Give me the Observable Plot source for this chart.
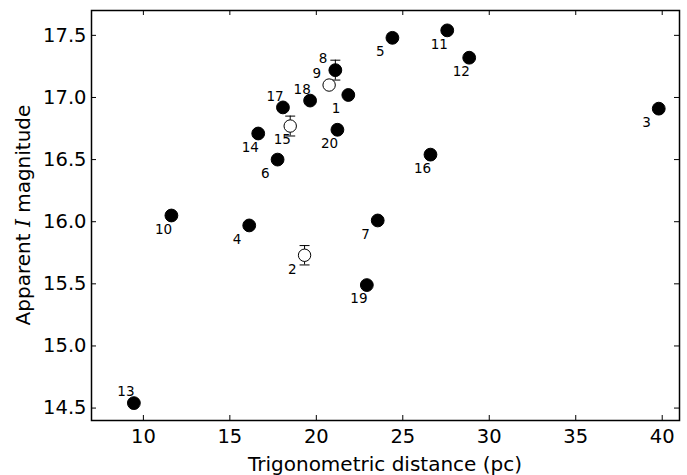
<!DOCTYPE html>
<html><head><meta charset="utf-8">
<script src="https://cdn.jsdelivr.net/npm/d3@7"></script>
<script src="https://cdn.jsdelivr.net/npm/@observablehq/plot@0.6"></script>
<style>body{margin:0;background:#fff} #chart{width:687px;height:475px}</style>
</head><body><div id="chart"></div>
<script>
// Data
const ids  = [1, 2, 3, 4, 5, 6, 7, 8, 9, 10, 11, 12, 13, 14, 15, 16, 17, 18, 19, 20];
const dist = [21.85, 19.32, 39.8, 16.12, 24.4, 17.76, 23.55, 21.1, 20.74, 11.62, 27.57, 28.84, 9.45, 16.64, 18.49, 26.6, 18.07, 19.64, 22.92, 21.22];
const mag  = [17.02, 15.73, 16.91, 15.97, 17.48, 16.50, 16.01, 17.22, 17.10, 16.05, 17.54, 17.32, 14.54, 16.71, 16.77, 16.54, 16.92, 16.975, 15.49, 16.74];
const openIds  = [2, 9, 15];
const errIds   = [2, 8, 15];
const errVals  = [0.078, 0.08, 0.08];
const aboveIds = [8, 9, 13, 17, 18];
const xTicks = [10, 15, 20, 25, 30, 35, 40];
const yTicks = [14.5, 15.0, 15.5, 16.0, 16.5, 17.0, 17.5];
const xDomain = [7, 41];
const yDomain = [14.4, 17.7];
const xTitle = "Trigonometric distance (pc)";
const yTitleParts = ["Apparent ", "I", " magnitude"];

const W = 687, H = 475, mL = 91, mR = 8, mT = 10, mB = 55;
const ph = H - mT - mB, pw = W - mL - mR, tl = 5;

const rows = ids.map((id, i) => ({
  id, x: dist[i], y: mag[i],
  open: openIds.includes(id),
  above: aboveIds.includes(id),
  err: errIds.includes(id) ? errVals[errIds.indexOf(id)] : 0
}));
const errRows = rows.filter(d => d.err > 0);
const caps = errRows.flatMap(d => [{x: d.x, y: d.y - d.err}, {x: d.x, y: d.y + d.err}]);
const capSymbol = {draw(ctx) { ctx.moveTo(-5, 0); ctx.lineTo(5, 0); }};

const chart = Plot.plot({
  width: W, height: H,
  marginLeft: mL, marginRight: mR, marginTop: mT, marginBottom: mB,
  style: {fontFamily: "DejaVu Sans", fontSize: "19.5px", color: "black", background: "white"},
  x: {domain: xDomain, label: null},
  y: {domain: yDomain, label: null},
  marks: [
    Plot.ruleX(errRows, {x: "x", y1: d => d.y - d.err, y2: d => d.y + d.err, stroke: "black", strokeWidth: 1}),
    Plot.dot(caps, {x: "x", y: "y", symbol: capSymbol, stroke: "black", strokeWidth: 1, r: 5}),
    Plot.dot(rows.filter(d => !d.open), {x: "x", y: "y", r: 6.4, fill: "black", stroke: "black", strokeWidth: 1}),
    Plot.dot(rows.filter(d => d.open), {x: "x", y: "y", r: 6.2, fill: "white", stroke: "black", strokeWidth: 1}),
    Plot.text(rows.filter(d => !d.above), {x: "x", y: "y", text: d => String(d.id), dx: -16.5, dy: 14, textAnchor: "start", fontSize: 13.5, fill: "black"}),
    Plot.text(rows.filter(d => d.above), {x: "x", y: "y", text: d => String(d.id), dx: -16.5, dy: -11, textAnchor: "start", fontSize: 13.5, fill: "black"}),
    // inward ticks on all four sides
    Plot.tickX(xTicks, {x: d => d, insetTop: ph - tl, stroke: "black", strokeWidth: 1}),
    Plot.tickX(xTicks, {x: d => d, insetBottom: ph - tl, stroke: "black", strokeWidth: 1}),
    Plot.tickY(yTicks, {y: d => d, insetRight: pw - tl, stroke: "black", strokeWidth: 1}),
    Plot.tickY(yTicks, {y: d => d, insetLeft: pw - tl, stroke: "black", strokeWidth: 1}),
    Plot.axisX(xTicks, {tickSize: 0, tickPadding: 9, tickFormat: d3.format("d"), fontSize: 19.5, label: null}),
    Plot.axisY(yTicks, {tickSize: 0, tickPadding: 5, tickFormat: d3.format(".1f"), fontSize: 19.5, label: null}),
    Plot.frame({stroke: "black", strokeWidth: 1.5})
  ]
});

const svg = d3.select(chart);
svg.append("text")
  .attr("x", mL + pw / 2).attr("y", 471)
  .attr("text-anchor", "middle")
  .attr("font-family", "DejaVu Sans").attr("font-size", 20).attr("fill", "black")
  .text(xTitle);
const yt = svg.append("text")
  .attr("transform", `translate(29.5,${mT + ph / 2}) rotate(-90)`)
  .attr("text-anchor", "middle")
  .attr("font-family", "DejaVu Sans").attr("font-size", 20).attr("fill", "black");
yt.append("tspan").text(yTitleParts[0]);
yt.append("tspan").attr("font-family", "DejaVu Serif").attr("font-style", "italic").text(yTitleParts[1]);
yt.append("tspan").text(yTitleParts[2]);

document.getElementById("chart").appendChild(chart);
</script>
</body></html>
